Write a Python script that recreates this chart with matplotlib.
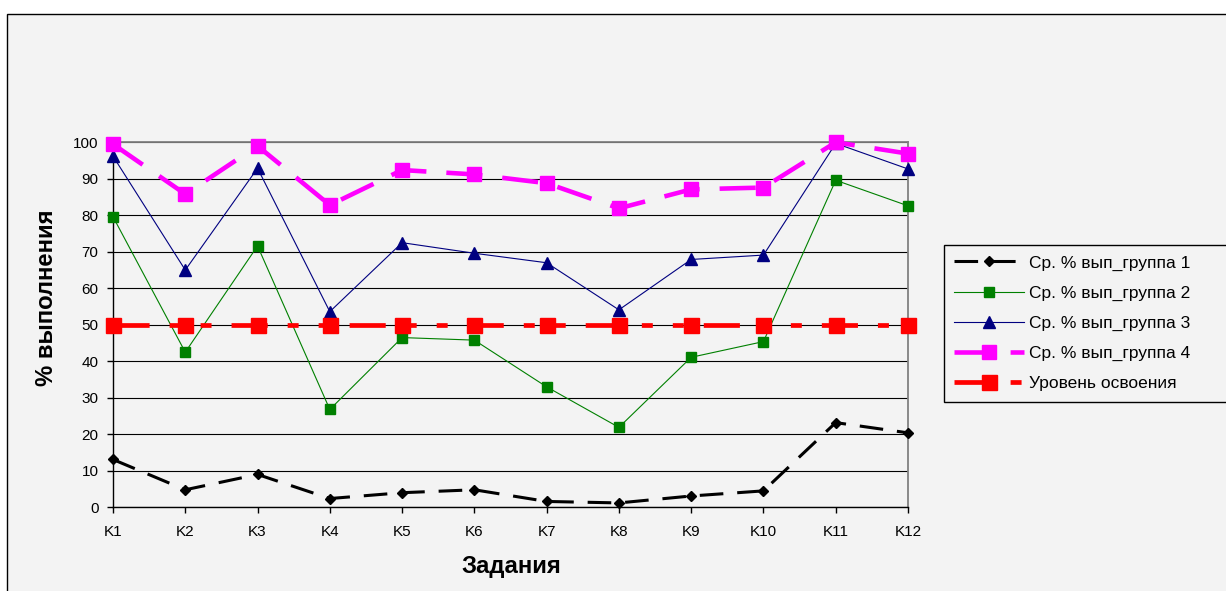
import matplotlib
matplotlib.use("Agg")
import matplotlib.pyplot as plt
from matplotlib.patches import Rectangle

plt.rcParams['font.family'] = ['Liberation Sans', 'DejaVu Sans']
plt.rcParams['lines.scale_dashes'] = False

# Task labels and average completion percentages per group
tasks = ["K1", "K2", "K3", "K4", "K5", "K6", "K7", "K8", "K9", "K10", "K11", "K12"]
group1 = [13.1, 4.8, 9.0, 2.4, 4.0, 4.8, 1.6, 1.2, 3.1, 4.5, 23.2, 20.4]
group2 = [79.6, 42.5, 71.6, 26.8, 46.5, 45.8, 33.0, 21.9, 41.1, 45.4, 89.6, 82.6]
group3 = [96.2, 65.0, 92.9, 53.6, 72.5, 69.6, 67.0, 54.1, 67.9, 69.1, 99.7, 92.7]
group4 = [99.5, 85.8, 99.0, 82.8, 92.4, 91.2, 88.8, 81.9, 87.1, 87.6, 100.0, 96.9]
mastery = [50] * 12

labels = ["Ср. % вып_группа 1", "Ср. % вып_группа 2", "Ср. % вып_группа 3",
          "Ср. % вып_группа 4", "Уровень освоения"]

W, H = 1226, 591
fig = plt.figure(figsize=(W / 100, H / 100), dpi=100, facecolor="white")

# chart area background with border
bg = Rectangle((7 / W, -0.05), 1.1, (H - 13.7) / H + 0.05,
               transform=fig.transFigure, facecolor="#f3f3f3",
               edgecolor="black", linewidth=1.0, zorder=-10)
fig.patches.append(bg)

ax = fig.add_axes([113 / W, (H - 507.3) / H, (908 - 113) / W, (507.3 - 142.3) / H])
ax.set_zorder(2)
ax.set_facecolor("#f3f3f3")

x = list(range(len(tasks)))

l1, = ax.plot(x, group1, color="black", lw=2.2, dashes=(17, 10),
              marker="D", ms=5.5, mfc="black", mec="black", clip_on=False, zorder=3)
l2, = ax.plot(x, group2, color="#008000", lw=0.8, marker="s", ms=6.5,
              mfc="#008000", mec="#008000", clip_on=False, zorder=3)
l3, = ax.plot(x, group3, color="#000080", lw=0.8, marker="^", ms=8,
              mfc="#000080", mec="#000080", clip_on=False, zorder=3)
l4, = ax.plot(x, group4, color="#ff00ff", lw=3.3, dashes=(26, 14.4),
              marker="s", ms=10.5, mfc="#ff00ff", mec="#ff00ff", clip_on=False, zorder=3)
l5, = ax.plot(x, mastery, color="#ff0000", lw=3.4,
              dashes=(26, 14.4, 7.9, 14.4, 7.9, 14.4),
              marker="s", ms=10.8, mfc="#ff0000", mec="#ff0000", clip_on=False, zorder=3)

ax.set_xlim(0, len(tasks) - 1)
ax.set_ylim(0, 100)
ax.set_xticks(x)
ax.set_xticklabels(tasks)
ax.set_yticks(range(0, 101, 10))
ax.tick_params(axis="both", direction="out", length=4.5, width=1, labelsize=11,
               colors="black", pad=6)
ax.tick_params(axis="x", pad=8)

ax.yaxis.grid(True, color="black", lw=0.8)
ax.set_axisbelow(True)
for s in ("top", "right"):
    ax.spines[s].set_color("#808080")
    ax.spines[s].set_linewidth(1.3)
for s in ("left", "bottom"):
    ax.spines[s].set_color("black")
    ax.spines[s].set_linewidth(1.0)

fig.text(47 / W, 1 - 297.5 / H, "% выполнения", rotation=90, ha="center",
         va="center", fontsize=17.2, fontweight="bold")
fig.text(511 / W, 1 - 567 / H, "Задания", ha="center", va="center",
         fontsize=17.2, fontweight="bold")

leg = fig.legend([l1, l2, l3, l4, l5], labels, loc="upper left",
                 bbox_to_anchor=(944 / W, 1 - 403 / H, 300 / W, 158 / H),
                 mode="expand", borderaxespad=0,
                 fontsize=12.5, handlelength=4.0, handletextpad=0.3,
                 labelspacing=0.86, borderpad=0.6, numpoints=1,
                 fancybox=False, framealpha=1, facecolor="#f3f3f3",
                 edgecolor="black")
leg.get_frame().set_linewidth(1.0)
leg.set_zorder(5)

fig.savefig("out.png", dpi=100, facecolor="white")
